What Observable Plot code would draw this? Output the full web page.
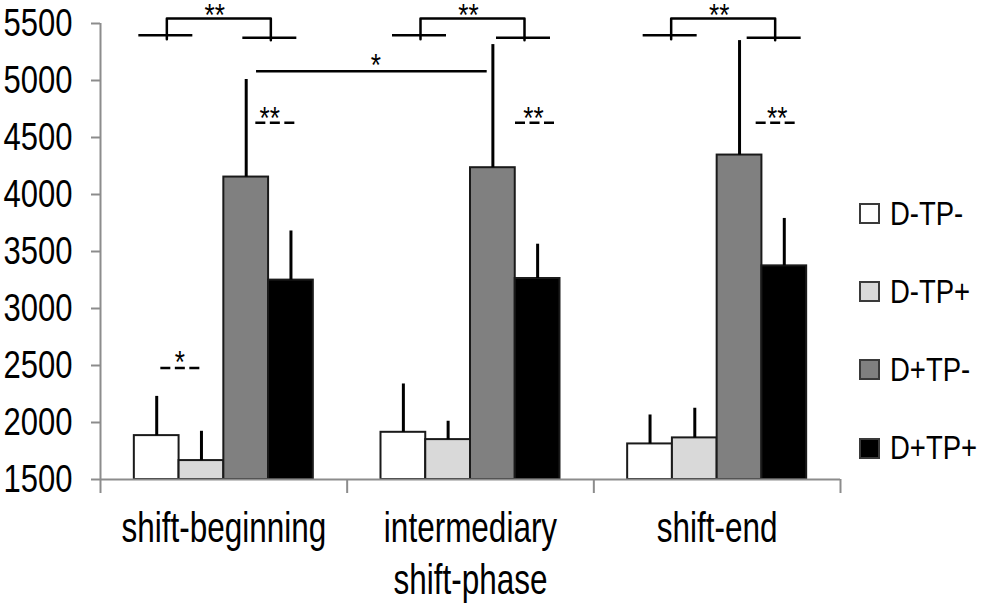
<!DOCTYPE html>
<html><head><meta charset="utf-8">
<script src="https://cdn.jsdelivr.net/npm/d3@7"></script>
<script src="https://cdn.jsdelivr.net/npm/@observablehq/plot@0.6"></script>
<style>
body{margin:0;background:#fff;}
#wrap{position:relative;width:982px;height:608px;font-family:"Liberation Sans",Arial,sans-serif;}
#legend{position:absolute;left:859px;top:0;}
.item{position:absolute;left:0;display:flex;align-items:center;white-space:nowrap;}
.sw{width:17px;height:17px;border:2px solid #3a3a3a;margin-right:10px;flex:none;}
.lab{font-size:33.5px;line-height:1;color:#000;display:inline-block;transform:scaleX(0.82);transform-origin:left center;}
</style></head><body><div id="wrap"></div>
<script>
// ---- data ----
const categories = ["shift-beginning", "intermediary\nshift-phase", "shift-end"];
const groups = ["D-TP-", "D-TP+", "D+TP-", "D+TP+"];
const colors = ["#ffffff", "#d9d9d9", "#808080", "#000000"];
const meanDmTPm = [1885, 1914, 1812];
const meanDmTPp = [1666, 1850, 1865];
const meanDpTPm = [4153, 4235, 4346];
const meanDpTPp = [3249, 3263, 3374];
const upperDmTPm = [2229, 2338, 2066];
const upperDmTPp = [1923, 2011, 2125];
const upperDpTPm = [5009, 5315, 5350];
const upperDpTPp = [3680, 3564, 3790];
const yTicks = [1500, 2000, 2500, 3000, 3500, 4000, 4500, 5000, 5500];

const means = [meanDmTPm, meanDmTPp, meanDpTPm, meanDpTPp];
const uppers = [upperDmTPm, upperDmTPp, upperDpTPm, upperDpTPp];

// ---- layout ----
const B = 740 / 3;          // px per category band
const bw = 44.75 / B;       // bar width in category units
const start = (1 - 4 * bw) / 2;
const rows = [];
categories.forEach((c, i) => groups.forEach((g, j) => rows.push({
  i, g, mean: means[j][i], hi: uppers[j][i],
  x1: i + start + j * bw, x2: i + start + (j + 1) * bw
})));
const cx = (i, px) => i + 0.5 + px / B;

// ---- significance annotations ----
const shift = [-6, 1, 5];
const hLines = [], brackets = [], dashed = [], stars = [];
categories.forEach((c, i) => {
  const s = shift[i];
  hLines.push({x1: cx(i, -79 + s), x2: cx(i, -25 + s), y: 5397});
  hLines.push({x1: cx(i, 25 + s), x2: cx(i, 79 + s), y: 5375});
  [[-51, 5362], [-51, 5543], [53, 5543], [53, 5354]].forEach(([p, y]) => brackets.push({z: i, x: cx(i, p + s), y}));
  stars.push({x: cx(i, s - 3), y: 5607, t: "**"});
});
const dashOff = [[32, 73, 46], [45, 86, 63], [39, 80, 60]];
dashOff.forEach(([a, b, t], i) => {
  dashed.push({x1: cx(i, a), x2: cx(i, b), y: 4629});
  stars.push({x: cx(i, t), y: 4705, t: "**"});
});
dashed.push({x1: cx(0, -63), x2: cx(0, -21), y: 2478});
stars.push({x: cx(0, -44), y: 2560, t: "*"});
hLines.push({x1: cx(0, 32.7), x2: cx(1, 16.7), y: 5081});
stars.push({x: cx(0, 152), y: 5165, t: "*"});

const gray = "#8c8c8c";
const font = '"Liberation Sans",Arial,sans-serif';

const chart = Plot.plot({
  width: 982, height: 608,
  marginLeft: 100, marginRight: 142, marginTop: 23, marginBottom: 129,
  x: {domain: [0, 3], axis: null},
  y: {domain: [1500, 5500], axis: null},
  color: {domain: groups, range: colors},
  style: {fontFamily: font, background: "transparent", overflow: "visible"},
  marks: [
    Plot.axisY({ticks: yTicks, tickSize: 9, tickPadding: 19, tickFormat: d => String(d),
      fontSize: 39, stroke: gray, strokeWidth: 2, fill: "black", label: null}),
    Plot.axisX({ticks: [0, 1, 2, 3], tickSize: 14, tickFormat: () => "", stroke: gray, strokeWidth: 2, label: null}),
    Plot.ruleX([0], {y1: 1500, y2: 5500, stroke: gray, strokeWidth: 2}),
    Plot.text(categories, {x: (d, i) => i + 0.5, y: () => 1500, text: d => d, lineAnchor: "top",
      dy: 26, fontSize: 42, lineHeight: 52 / 42, fill: "black", className: "xlab"}),
    Plot.rect(rows, {x1: "x1", x2: "x2", y1: () => 1500, y2: "mean", fill: "g", stroke: "#1a1a1a", strokeWidth: 2}),
    Plot.ruleY([1500], {stroke: gray, strokeWidth: 2}),
    Plot.ruleX(rows, {x: d => (d.x1 + d.x2) / 2, y1: "mean", y2: "hi", stroke: "black", strokeWidth: 3}),
    Plot.ruleY(hLines, {x1: "x1", x2: "x2", y: "y", stroke: "black", strokeWidth: 2.5}),
    Plot.line(brackets, {x: "x", y: "y", z: "z", stroke: "black", strokeWidth: 2.5}),
    Plot.ruleY(dashed, {x1: "x1", x2: "x2", y: "y", stroke: "black", strokeWidth: 2.5, strokeDasharray: "10,4.5"}),
    Plot.text(stars, {x: "x", y: "y", text: "t", fontSize: 32, dy: 4.5, fill: "black", className: "stars"})
  ]
});
const wrap = document.getElementById("wrap");
wrap.appendChild(chart);
// condense texts horizontally (narrow face look) around their anchor point
chart.querySelectorAll("text").forEach(t => {
  const sx = t.closest(".xlab") ? 0.75 : t.closest(".stars") ? 0.82 : 0.795;
  const bb = t.getBBox();
  const a = getComputedStyle(t).textAnchor;
  const px = a === "end" ? bb.x + bb.width : a === "middle" ? bb.x + bb.width / 2 : bb.x;
  const tr = t.getAttribute("transform") || "";
  t.setAttribute("transform", `${tr} translate(${px},0) scale(${sx},1) translate(${-px},0)`.trim());
});
const legend = document.createElement("div");
legend.id = "legend";
groups.forEach((g, k) => {
  const it = document.createElement("div");
  it.className = "item";
  it.style.top = (213 + k * 78.3 - 16.5) + "px";
  const sw = document.createElement("div");
  sw.className = "sw";
  sw.style.background = colors[k];
  const lab = document.createElement("span");
  lab.className = "lab";
  lab.textContent = g;
  it.appendChild(sw); it.appendChild(lab);
  legend.appendChild(it);
});
wrap.appendChild(legend);
</script></body></html>
